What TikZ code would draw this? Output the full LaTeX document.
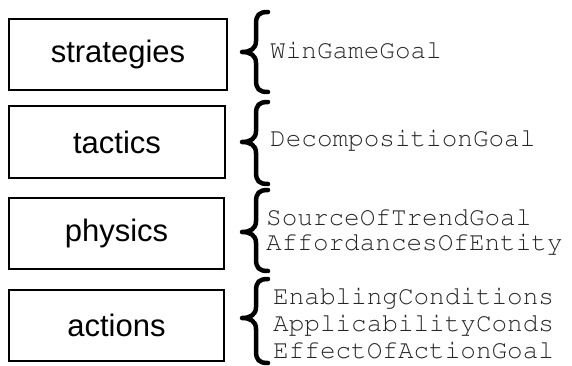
\documentclass[tikz,border=0pt]{standalone}
\usepackage{fontspec}
\setmainfont{Liberation Sans}
\newcommand{\courierfont}{\fontencoding{T1}\fontfamily{pcr}\fontseries{m}\fontshape{n}\selectfont}
\tikzset{
  levelbox/.style={draw=black, line width=2pt, minimum width=#1, minimum height=71pt, inner sep=0pt,
    font=\fontsize{31}{36}\selectfont},
  goaltext/.style={anchor=base west, inner sep=0pt, font=\fontsize{26}{30}\courierfont, text=black!85},
  bracestyle/.style={line width=4.5pt, line cap=round, line join=round}
}
\newcommand{\curlybrace}[3]{%
  \draw[bracestyle] (268,#1) .. controls (259,#1) and (256,#1+3) .. (256,#1+12)
    -- (256,#2-11) .. controls (256,#2-3) and (250,#2) .. (242,#2)
    .. controls (250,#2) and (256,#2+3) .. (256,#2+11)
    -- (256,#3-12) .. controls (256,#3-3) and (259,#3) .. (268,#3);}
\begin{document}
\begin{tikzpicture}[x=1pt,y=-1pt]
\useasboundingbox (0,0) rectangle (572,366);
\node[levelbox=218pt] (strategies) at (118,54.5) {strategies};
\node[levelbox=216pt] (tactics) at (117,142) {tactics};
\node[levelbox=215pt] (physics) at (116.5,233) {physics};
\node[levelbox=215pt] (actions) at (116.5,325.5) {actions};
\curlybrace{12}{52}{92}
\curlybrace{102}{142}{184}
\curlybrace{190}{232}{271}
\curlybrace{279}{318}{363}
\node[goaltext] (win) at (270,59) {WinGameGoal};
\node[goaltext] (decomp) at (270,147) {DecompositionGoal};
\node[goaltext] (source) at (266,225) {SourceOfTrendGoal};
\node[goaltext] (afford) at (266,250) {AffordancesOfEntity};
\node[goaltext] (enabling) at (273,304) {EnablingConditions};
\node[goaltext] (applic) at (273,331) {ApplicabilityConds};
\node[goaltext] (effect) at (273,358) {EffectOfActionGoal};
\end{tikzpicture}
\end{document}
